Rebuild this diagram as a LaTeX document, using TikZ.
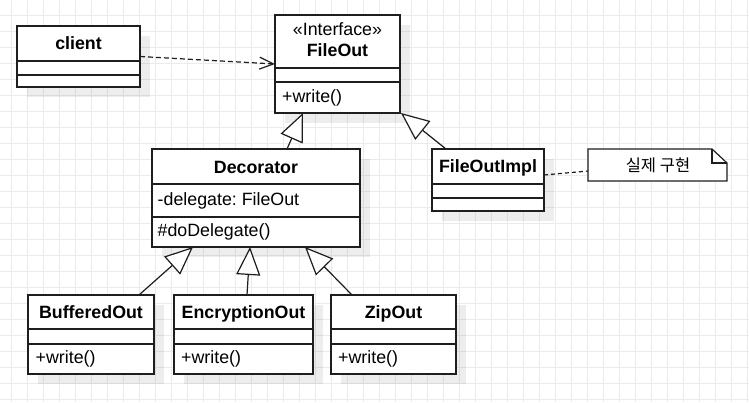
\documentclass[tikz,border=0pt]{standalone}
\usepackage{fontspec}
\setmainfont{Liberation Sans}
\newfontfamily\krfont{Noto Sans CJK KR}
\usetikzlibrary{arrows.meta,calc,shadows}
\definecolor{gridc}{HTML}{EBEBEB}
\definecolor{linec}{HTML}{1E1E1E}
\frenchspacing
\begin{document}
\begin{tikzpicture}[x=1pt,y=-1pt,
  cls/.style={draw=linec, line width=1.5pt, fill=white, anchor=north west, inner sep=0pt, outer sep=0pt,
    drop shadow={shadow xshift=10pt, shadow yshift=-10pt, fill=black, opacity=0.07}},
  notebox/.style={anchor=north west, inner sep=0pt, outer sep=0pt, minimum width=139pt, minimum height=32pt},
  div/.style={draw=linec, line width=1.5pt},
  txt/.style={inner sep=0pt, font=\fontsize{17.8}{21}\selectfont},
  hdr/.style={txt, font=\fontsize{17.8}{21}\selectfont\bfseries, anchor=base},
  attr/.style={txt, anchor=base west},
  inh/.style={draw=linec, line width=1.2pt, -{Triangle[length=28pt, width=24pt, fill=white, line width=1.2pt]}},
  dep/.style={draw=linec, line width=1.2pt, dash pattern=on 5pt off 3pt, -{Straight Barb[length=14pt, width=12pt, line width=1.2pt]}},
  lnk/.style={draw=linec, line width=1.2pt, dash pattern=on 4pt off 3pt}
]
\useasboundingbox (0,0) rectangle (749,402);
\fill[white] (0,0) rectangle (749,402);
\foreach \i in {0,...,46} \draw[gridc, line width=1pt] ({11.5+16*\i},0) -- ({11.5+16*\i},402);
\foreach \j in {0,...,24} \draw[gridc, line width=1pt] (0,{15.3+16*\j}) -- (749,{15.3+16*\j});

% classes
\node[cls, minimum width=123pt, minimum height=61pt] (client) at (17,26) {};
\node[cls, minimum width=125pt, minimum height=98pt] (fileout) at (275,15) {};
\node[cls, minimum width=208pt, minimum height=98pt] (deco) at (152,149) {};
\node[cls, minimum width=112pt, minimum height=62pt] (impl) at (432,149) {};
\node[cls, minimum width=126pt, minimum height=79pt] (buf) at (28,295) {};
\node[cls, minimum width=139pt, minimum height=79pt] (enc) at (174,295) {};
\node[cls, minimum width=125pt, minimum height=79pt] (zip) at (331,295) {};

% compartments
\draw[div] (17,61) -- (140,61) (17,75) -- (140,75);
\draw[div] (275,68) -- (400,68) (275,82) -- (400,82);
\draw[div] (152,184) -- (360,184) (152,217) -- (360,217);
\draw[div] (432,184) -- (544,184) (432,198) -- (544,198);
\draw[div] (28,329) -- (154,329) (28,344) -- (154,344);
\draw[div] (174,329) -- (313,329) (174,344) -- (313,344);
\draw[div] (331,329) -- (456,329) (331,344) -- (456,344);

% texts
\node[hdr] (tclient) at (78.5,49.3) {client};
\node[txt, anchor=base] (tstereo) at (337.5,35.5) {«Interface»};
\node[hdr] (tfileout) at (337.5,56.5) {FileOut};
\node[attr] (tfw) at (282,102.5) {+write()};
\node[hdr] (tdeco) at (256,173) {Decorator};
\node[attr] (tdel) at (157.5,205) {-delegate: FileOut};
\node[attr] (tdod) at (157.5,236.7) {\#doDelegate()};
\node[hdr] (timpl) at (488,172.7) {FileOutImpl};
\node[hdr] (tbuf) at (91,318.3) {BufferedOut};
\node[hdr] (tenc) at (243.5,318.3) {EncryptionOut};
\node[hdr] (tzip) at (393.5,318.3) {ZipOut};
\node[attr] (tbw) at (35.5,363) {+write()};
\node[attr] (tew) at (181,363) {+write()};
\node[attr] (tzw) at (338,363) {+write()};

% note
\node[notebox] (note) at (588,149) {};
\draw[linec, line width=1.2pt, fill=white] (note.north west) -- ($(note.north east)+(-15,0)$) -- ($(note.north east)+(0,14)$) -- (note.south east) -- (note.south west) -- cycle;
\draw[linec, line width=1.2pt] ($(note.north east)+(-15,0)$) -- ($(note.north east)+(-15,14)$) -- ($(note.north east)+(0,14)$);
\node[inner sep=0pt, font=\krfont\fontsize{16.5}{19}\selectfont] (tnote) at (658,165) {실제 구현};

% connectors
\draw[dep] (client.east) -- (fileout.west);
\draw[inh] ($(deco.north west)+(135,0)$) -- ($(fileout.south west)+(28,0)$);
\draw[inh] ($(impl.north west)+(14,0)$) -- ($(fileout.south east)+(1,0)$);
\draw[inh] ($(buf.north east)+(-15,0)$) -- ($(deco.south west)+(41,0)$);
\draw[inh] ($(enc.north west)+(73,0)$) -- ($(deco.south west)+(98,0)$);
\draw[inh] ($(zip.north west)+(21,0)$) -- ($(deco.south west)+(153,0)$);
\draw[lnk] ($(impl.east)+(0,-5)$) -- ($(note.west)+(0,6)$);
\end{tikzpicture}
\end{document}
